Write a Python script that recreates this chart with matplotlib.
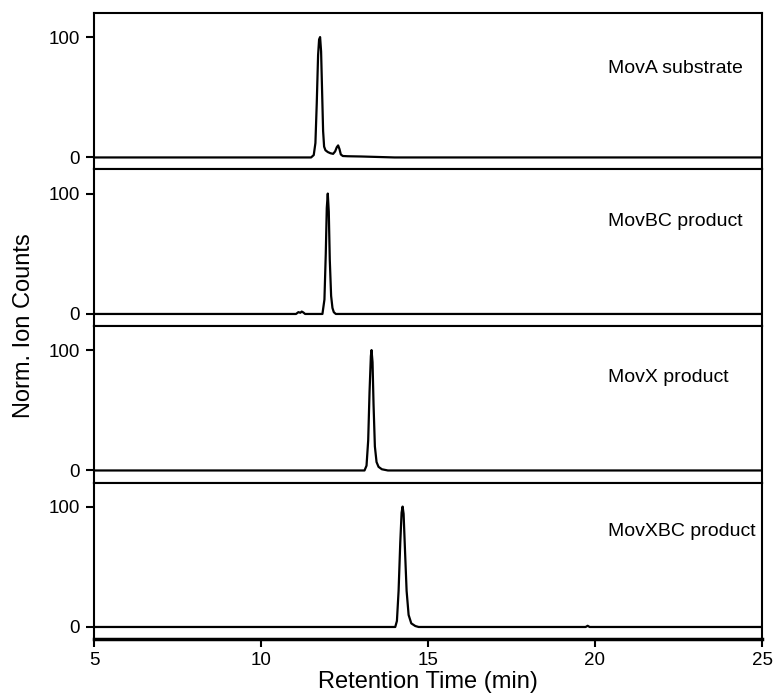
import matplotlib.pyplot as plt

plt.rcParams['font.family'] = ['Liberation Sans', 'DejaVu Sans']

# Extracted ion chromatograms (retention time in min, normalised counts)
movA_t = [5.0, 11.50, 11.58, 11.63, 11.67, 11.71, 11.74, 11.77, 11.80, 11.83, 11.86,
          11.89, 11.93, 12.00, 12.08, 12.16, 12.22, 12.27, 12.31, 12.35, 12.39,
          12.45, 12.60, 13.00, 13.50, 14.00, 25.0]
movA_y = [0, 0, 2, 12, 45, 85, 98, 100, 88, 55, 22,
          9, 6, 4.5, 3.5, 3, 5, 8.5, 10, 7, 2.5,
          1.2, 1, 0.8, 0.4, 0, 0]

movBC_t = [5.0, 11.05, 11.12, 11.18, 11.22, 11.27, 11.32, 11.84, 11.90, 11.94,
           11.97, 12.00, 12.03, 12.06, 12.10, 12.14, 12.18, 12.24, 25.0]
movBC_y = [0, 0, 1.5, 1, 2, 1.2, 0, 0, 12, 50,
           88, 100, 85, 45, 15, 5, 1.5, 0, 0]

movX_t = [5.0, 13.10, 13.16, 13.21, 13.25, 13.29, 13.31, 13.34, 13.37, 13.41,
          13.46, 13.52, 13.62, 13.80, 25.0]
movX_y = [0, 0, 4, 25, 65, 95, 100, 90, 55, 20,
          7, 3, 1, 0, 0]

movXBC_t = [5.0, 14.02, 14.07, 14.12, 14.17, 14.21, 14.24, 14.27, 14.31, 14.36,
            14.42, 14.50, 14.62, 14.72, 19.72, 19.78, 19.84, 25.0]
movXBC_y = [0, 0, 5, 30, 70, 95, 100, 94, 65, 30,
            10, 3, 0.8, 0, 0, 1, 0, 0]

traces = [(movA_t, movA_y), (movBC_t, movBC_y), (movX_t, movX_y), (movXBC_t, movXBC_y)]
labels = ['MovA substrate', 'MovBC product', 'MovX product', 'MovXBC product']
label_y = [74, 77, 77, 79]

fig, axes = plt.subplots(4, 1, sharex=True, figsize=(7.74, 6.98), dpi=100)
fig.subplots_adjust(left=0.1214, right=0.9845, top=0.9814, bottom=0.0845, hspace=0)

for ax, (t, y), lab, ly in zip(axes, traces, labels, label_y):
    ax.plot(t, y, color='black', lw=1.6)
    ax.set_xlim(5, 25)
    ax.set_ylim(-10, 120)
    ax.set_yticks([0, 100])
    ax.tick_params(axis='y', direction='out', length=6, width=1.5, labelsize=13.5, pad=4)
    ax.tick_params(axis='x', direction='out', length=6, width=1.5, labelsize=13.5, pad=3)
    for s in ax.spines.values():
        s.set_linewidth(1.5)
    ax.text(20.4, ly, lab, fontsize=14, va='center', ha='left')

for ax in axes[:-1]:
    ax.tick_params(axis='x', bottom=False)
axes[-1].spines['bottom'].set_linewidth(2.5)
axes[-1].set_xticks([5, 10, 15, 20, 25])
axes[-1].set_xlabel('Retention Time (min)', fontsize=17, labelpad=2)
fig.text(0.031, 0.533, 'Norm. Ion Counts', rotation=90, fontsize=17,
         va='center', ha='center')

plt.savefig('out.png', dpi=100)
